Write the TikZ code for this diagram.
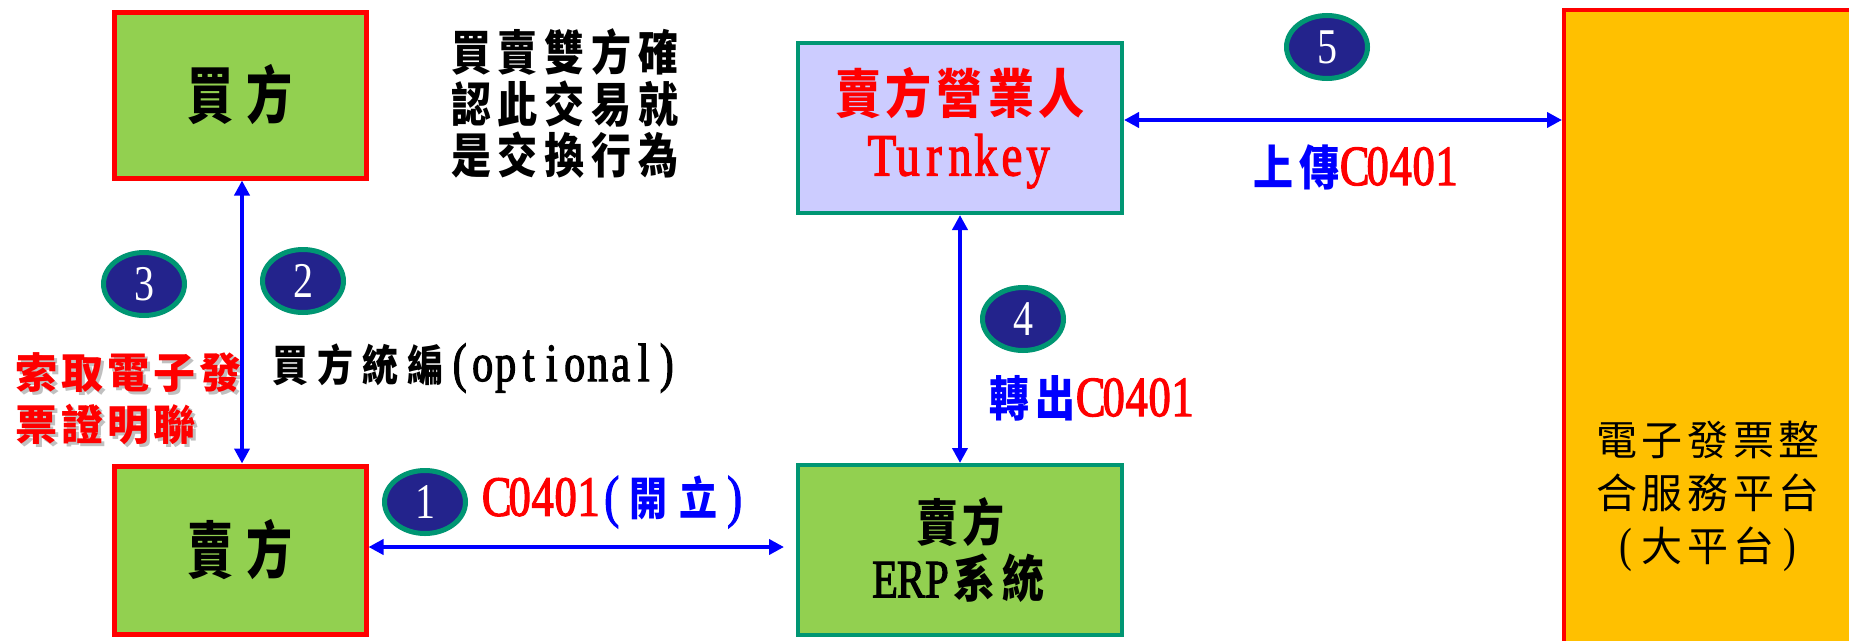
\documentclass[tikz,border=0pt]{standalone}
\usepackage{fontspec}
\usepackage{graphicx}
\usetikzlibrary{arrows.meta,shapes.geometric}
\newfontfamily\cjk{Noto Sans CJK TC}
\newfontfamily\latin{Liberation Serif}[FakeStretch=0.78,FakeBold=2]
\newfontfamily\numfont{Liberation Serif}[FakeStretch=0.8]
\definecolor{boxgreen}{HTML}{92D050}
\definecolor{tealb}{HTML}{009673}
\definecolor{lav}{HTML}{CCCCFF}
\definecolor{platf}{HTML}{FFC000}
\definecolor{navy}{HTML}{23238C}
\definecolor{shadowgray}{HTML}{C0C0C0}
\newcommand\cells[2]{\def\cellw{#1}\cellsA#2\relax}
\def\cellsA#1{\ifx#1\relax\else\makebox[\cellw][c]{#1}\expandafter\cellsA\fi}
\newcommand\tallbox[2]{\scalebox{1}[#1]{#2}}
\tikzset{
  box/.style={draw, line width=5pt, inner sep=0pt, minimum width=252pt, minimum height=166pt, align=center},
  redbox/.style={box, draw=red, fill=boxgreen},
  tealbox/.style={box, line width=4pt, draw=tealb, minimum width=324pt, minimum height=170pt},
  numc/.style={ellipse, draw=tealb, line width=5pt, fill=navy, minimum width=81pt, minimum height=63pt, inner sep=0pt, text=white, font=\numfont\fontsize{50}{50}\selectfont},
  biarrow/.style={draw=blue, line width=4pt, {Triangle[length=15pt,width=15pt]}-{Triangle[length=15pt,width=15pt]}},
  txt/.style={inner sep=0pt, align=center},
  txtl/.style={inner sep=0pt, align=left, anchor=west}
}
\begin{document}
\begin{tikzpicture}[x=1pt,y=-1pt]
\useasboundingbox (0,0) rectangle (1849,640);
\clip (0,0) rectangle (1849,640);
\fill[white] (0,0) rectangle (1849,640);

% platform
\node[draw=red, line width=4pt, fill=platf, minimum width=296pt, minimum height=650pt, inner sep=0pt] (plat) at (1712,335) {};
\node[txt, font=\cjk\fontsize{41}{53}\selectfont] (plattext) at (1708,496) {\cells{45.6pt}{電子發票整}\\\cells{45.6pt}{合服務平台}\\\makebox[26pt]{\numfont\fontsize{48}{48}\selectfont(}\cells{46pt}{大平台}\makebox[26pt]{\numfont\fontsize{48}{48}\selectfont)}};

% boxes
\node[redbox] (buyer) at (240,95) {\tallbox{1.35}{\cjk\bfseries\fontsize{46}{46}\selectfont\cells{60pt}{買方}}};
\node[redbox, minimum height=168pt] (seller) at (240,550) {\tallbox{1.35}{\cjk\bfseries\fontsize{46}{46}\selectfont\cells{60pt}{賣方}}};
\node[tealbox, fill=lav] (tk) at (960,128) {\tallbox{1.15}{\cjk\bfseries\fontsize{46}{46}\selectfont\color{red}\cells{51pt}{賣方營業人}}\\[14pt]{\latin\fontsize{60}{60}\selectfont\color{red}\cells{26pt}{Turnkey}}};
\node[tealbox, fill=boxgreen] (erp) at (960,550) {\tallbox{1.2}{\cjk\bfseries\fontsize{42}{42}\selectfont\cells{46pt}{賣方}}\\[6pt]{\latin\fontsize{54}{54}\selectfont\cells{26pt}{ERP}}\tallbox{1.2}{\cjk\bfseries\fontsize{42}{42}\selectfont\cells{49pt}{系統}}};

% texts
\node[txt, font=\cjk\bfseries\fontsize{40}{51.5}\selectfont] (note) at (565,104) {\tallbox{1.2}{\cells{47pt}{買賣雙方確}}\\\tallbox{1.2}{\cells{47pt}{認此交易就}}\\\tallbox{1.2}{\cells{47pt}{是交換行為}}};

\node[txtl, text=shadowgray, font=\cjk\bfseries\fontsize{42}{52}\selectfont] (reqshadow) at (16,402) {\cells{46pt}{索取電子發}\\\cells{46pt}{票證明聯}};
\node[txtl, text=red, font=\cjk\bfseries\fontsize{42}{52}\selectfont] (req) at (13,399) {\cells{46pt}{索取電子發}\\\cells{46pt}{票證明聯}};

\node[txtl] (opt) at (268,368) {\tallbox{1.2}{\cjk\bfseries\fontsize{36}{36}\selectfont\cells{45pt}{買方統編}}{\latin\fontsize{54}{54}\selectfont\cells{23pt}{(optional)}}};

\node[txtl] (lab1) at (485,502) {{\latin\fontsize{57}{57}\selectfont\color{red}\cells{23pt}{C0401}}{\latin\fontsize{57}{57}\selectfont\color{blue}\cells{23pt}{(}}\tallbox{1.2}{\cjk\bfseries\fontsize{38}{38}\selectfont\color{blue}\cells{50pt}{開立}}{\latin\fontsize{57}{57}\selectfont\color{blue}\cells{23pt}{)}}};

\node[txtl] (lab4) at (986,398) {\tallbox{1.2}{\cjk\bfseries\fontsize{40}{40}\selectfont\color{blue}\cells{46.5pt}{轉出}}{\latin\fontsize{57}{57}\selectfont\color{red}\cells{23pt}{C0401}}};

\node[txtl] (lab5) at (1250,167) {\tallbox{1.2}{\cjk\bfseries\fontsize{40}{40}\selectfont\color{blue}\cells{46.5pt}{上傳}}{\latin\fontsize{57}{57}\selectfont\color{red}\cells{23pt}{C0401}}};

% number badges
\node[numc] (c1) at (425,502) {1};
\node[numc] (c2) at (303,281) {2};
\node[numc] (c3) at (144,284) {3};
\node[numc] (c4) at (1023,319) {4};
\node[numc] (c5) at (1327,47) {5};

% connectors
\draw[biarrow] ([xshift=2pt]buyer.south) -- ([xshift=2pt]seller.north);
\draw[biarrow] ([yshift=3pt]seller.east) -- ([xshift=-12pt,yshift=3pt]erp.west);
\draw[biarrow] (tk.south) -- (erp.north);
\draw[biarrow] ([yshift=8pt]tk.east) -- ([yshift=8pt]tk.east -| plat.west);
\end{tikzpicture}
\end{document}
